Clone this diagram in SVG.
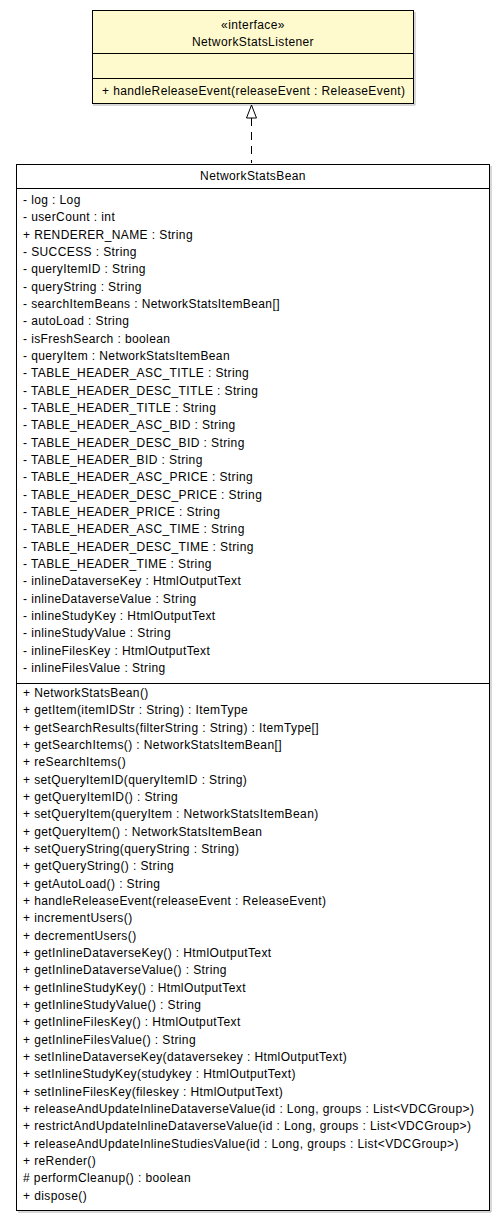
<svg xmlns="http://www.w3.org/2000/svg" width="504" height="1221" viewBox="0 0 504 1221">
<style>
text{font-family:"Liberation Sans",Arial,sans-serif;font-size:12px;letter-spacing:0.4px;fill:#000}
.c{text-anchor:middle}
.box{stroke:#000;stroke-width:1}
.sh{fill:none;stroke:#b0b0b0;stroke-width:1}
.ln{stroke:#000;stroke-width:1}
</style>
<rect width="504" height="1221" fill="#fff"/>
<g id="NetworkStatsListener">
<path class="sh" d="M415 12V105H93"/>
<rect class="box" x="92.5" y="10.5" width="321" height="93" fill="#fffacd"/>
<line class="ln" x1="92" y1="53.5" x2="414" y2="53.5"/>
<line class="ln" x1="92" y1="78.5" x2="414" y2="78.5"/>
<text class="c" x="253" y="29">«interface»</text>
<text class="c" x="253" y="46">NetworkStatsListener</text>
<text x="102" y="95">+ handleReleaseEvent(releaseEvent : ReleaseEvent)</text>
</g>
<g id="connectors">
<line x1="251.5" y1="118" x2="251.5" y2="163" stroke="#000" stroke-dasharray="8,6"/>
<polygon points="251.5,105 246.5,118 256.5,118" fill="#fff" stroke="#000"/>
</g>
<g id="NetworkStatsBean">
<path class="sh" d="M491 166V1212H18"/>
<rect class="box" x="16.5" y="164.5" width="473" height="1046" fill="#fff"/>
<line class="ln" x1="16" y1="188.5" x2="490" y2="188.5"/>
<line class="ln" x1="16" y1="683.5" x2="490" y2="683.5"/>
<text class="c" x="253" y="180">NetworkStatsBean</text>
<g>
<text x="23" y="204">- log : Log</text>
<text x="23" y="221.3">- userCount : int</text>
<text x="23" y="238.7">+ RENDERER_NAME : String</text>
<text x="23" y="256">- SUCCESS : String</text>
<text x="23" y="273.3">- queryItemID : String</text>
<text x="23" y="290.7">- queryString : String</text>
<text x="23" y="308">- searchItemBeans : NetworkStatsItemBean[]</text>
<text x="23" y="325.3">- autoLoad : String</text>
<text x="23" y="342.7">- isFreshSearch : boolean</text>
<text x="23" y="360">- queryItem : NetworkStatsItemBean</text>
<text x="23" y="377.3">- TABLE_HEADER_ASC_TITLE : String</text>
<text x="23" y="394.7">- TABLE_HEADER_DESC_TITLE : String</text>
<text x="23" y="412">- TABLE_HEADER_TITLE : String</text>
<text x="23" y="429.3">- TABLE_HEADER_ASC_BID : String</text>
<text x="23" y="446.7">- TABLE_HEADER_DESC_BID : String</text>
<text x="23" y="464">- TABLE_HEADER_BID : String</text>
<text x="23" y="481.3">- TABLE_HEADER_ASC_PRICE : String</text>
<text x="23" y="498.7">- TABLE_HEADER_DESC_PRICE : String</text>
<text x="23" y="516">- TABLE_HEADER_PRICE : String</text>
<text x="23" y="533.3">- TABLE_HEADER_ASC_TIME : String</text>
<text x="23" y="550.7">- TABLE_HEADER_DESC_TIME : String</text>
<text x="23" y="568">- TABLE_HEADER_TIME : String</text>
<text x="23" y="585.3">- inlineDataverseKey : HtmlOutputText</text>
<text x="23" y="602.7">- inlineDataverseValue : String</text>
<text x="23" y="620">- inlineStudyKey : HtmlOutputText</text>
<text x="23" y="637.3">- inlineStudyValue : String</text>
<text x="23" y="654.7">- inlineFilesKey : HtmlOutputText</text>
<text x="23" y="672">- inlineFilesValue : String</text>
</g>
<g>
<text x="23" y="697">+ NetworkStatsBean()</text>
<text x="23" y="714.3">+ getItem(itemIDStr : String) : ItemType</text>
<text x="23" y="731.7">+ getSearchResults(filterString : String) : ItemType[]</text>
<text x="23" y="749">+ getSearchItems() : NetworkStatsItemBean[]</text>
<text x="23" y="766.3">+ reSearchItems()</text>
<text x="23" y="783.7">+ setQueryItemID(queryItemID : String)</text>
<text x="23" y="801">+ getQueryItemID() : String</text>
<text x="23" y="818.3">+ setQueryItem(queryItem : NetworkStatsItemBean)</text>
<text x="23" y="835.7">+ getQueryItem() : NetworkStatsItemBean</text>
<text x="23" y="853">+ setQueryString(queryString : String)</text>
<text x="23" y="870.3">+ getQueryString() : String</text>
<text x="23" y="887.7">+ getAutoLoad() : String</text>
<text x="23" y="905">+ handleReleaseEvent(releaseEvent : ReleaseEvent)</text>
<text x="23" y="922.3">+ incrementUsers()</text>
<text x="23" y="939.7">+ decrementUsers()</text>
<text x="23" y="957">+ getInlineDataverseKey() : HtmlOutputText</text>
<text x="23" y="974.3">+ getInlineDataverseValue() : String</text>
<text x="23" y="991.7">+ getInlineStudyKey() : HtmlOutputText</text>
<text x="23" y="1009">+ getInlineStudyValue() : String</text>
<text x="23" y="1026.3">+ getInlineFilesKey() : HtmlOutputText</text>
<text x="23" y="1043.7">+ getInlineFilesValue() : String</text>
<text x="23" y="1061">+ setInlineDataverseKey(dataversekey : HtmlOutputText)</text>
<text x="23" y="1078.3">+ setInlineStudyKey(studykey : HtmlOutputText)</text>
<text x="23" y="1095.7">+ setInlineFilesKey(fileskey : HtmlOutputText)</text>
<text x="23" y="1113">+ releaseAndUpdateInlineDataverseValue(id : Long, groups : List&lt;VDCGroup&gt;)</text>
<text x="23" y="1130.3">+ restrictAndUpdateInlineDataverseValue(id : Long, groups : List&lt;VDCGroup&gt;)</text>
<text x="23" y="1147.7">+ releaseAndUpdateInlineStudiesValue(id : Long, groups : List&lt;VDCGroup&gt;)</text>
<text x="23" y="1165">+ reRender()</text>
<text x="23" y="1182.3"># performCleanup() : boolean</text>
<text x="23" y="1199.7">+ dispose()</text>
</g>
</g>
</svg>
